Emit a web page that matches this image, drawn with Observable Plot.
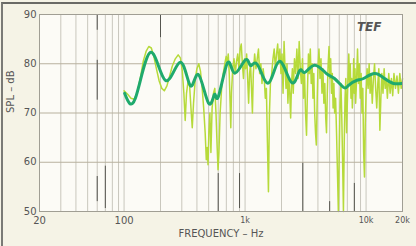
<!DOCTYPE html>
<html><head><meta charset="utf-8">
<script src="https://cdn.jsdelivr.net/npm/d3@7"></script>
<script src="https://cdn.jsdelivr.net/npm/@observablehq/plot@0.6"></script>
<style>
html,body{margin:0;padding:0;background:#f5f3e6;}
#wrap{position:relative;width:416px;height:246px;overflow:hidden;}
#border{position:absolute;left:1px;top:2px;width:430px;height:260px;border-top:2px solid #6a6a66;border-left:2px solid #7a7a76;}
#wrap svg{position:absolute;left:0;top:0;}
</style></head><body><div id="wrap"><div id="border"></div></div>
<script>
const smoothFreq = [101,124,165,220,292,354,412,499,559,603,716,818,1008,1109,1267,1563,1924,2421,2818,3098,3750,4710,5483,6508,7160,8335,9520,11744,14200,16860,19640];
const smoothDb   = [74,73,82.3,76.6,80.3,75.5,77.8,72,73.8,73.4,80.2,78.1,80.8,79.6,79.8,76.1,80.5,76.2,78.6,78.2,79.7,78,77,75.2,75.6,76.6,77,78,77,76,76];

const rawFreq = [100,107,114,121,128,136,144,152,160,168,176,185,195,205,215,226,238,250,265,280,292,303,312,320,328,338,348,357,366,375,388,400,414,428,442,455,468,478,486,494,502,512,522,534,548,562,575,588,598,608,622,640,660,680,698,712,726,740,752,762,772,790,810,830,850,870,890,910,930,950,970,990,1010,1030,1050,1070,1090,1110,1130,1150,1170,1200,1230,1260,1290,1320,1350,1380,1410,1440,1470,1500,1530,1560,1590,1620,1660,1700,1740,1780,1820,1860,1900,1940,1980,2020,2060,2100,2140,2180,2220,2260,2300,2340,2380,2420,2460,2500,2560,2620,2680,2740,2800,2860,2920,2980,3040,3100,3160,3220,3280,3340,3400,3460,3520,3580,3640,3700,3760,3820,3880,3940,4000,4080,4160,4240,4320,4400,4480,4560,4640,4710,4780,4860,4940,5020,5100,5180,5260,5340,5420,5500,5600,5700,5800,5900,6000,6100,6200,6300,6400,6500,6600,6700,6800,6900,7000,7100,7200,7300,7400,7500,7600,7700,7800,7900,8000,8100,8200,8350,8500,8650,8800,8950,9100,9250,9400,9550,9700,9850,10000,10200,10400,10600,10800,11000,11250,11500,11750,12000,12250,12500,12750,13000,13250,13500,13800,14100,14400,14700,15000,15400,15800,16200,16600,17000,17500,18000,18500,19000,19500,20000];
const rawDb = [74.5,73.8,73,72.8,74,77,80.5,82.5,83.5,83.2,81.5,79,76.5,75,74.5,75.5,77.5,79.5,81,81.8,81.2,78.5,74,68.5,74,76.5,75.5,71,67,72,77,79,80,78.5,75,71,66,60.5,63,59.5,66,70,62,71,74,75,70,63,58.5,62,70,75,78,80,81.5,80,82,78,72,67,74,79,81,78,80.5,82,79,83,84,80,77,81,79,82,77,72,78,80,75,70,78,82,79,81,83,78,80,76,79,77,73,75,64,54,70,76,78,81,83,79,82,84,80,83,78,82,74,84.5,79,75,80,72,77,74,69,76,79,74,81,78,83,77,84.5,79,76,81,73,78,70,65.5,75,82,78,83,76,80,73,78,70,66,63.5,72,79,83,77,81,74,79,72,76,69,66,74,80,83.5,77,81,74,78,71,76,70,73,66,58,50,62,72,76,69,60,50,64,73,77,66,72,78,82,76,80,73,77,71,75,81,74,79,72,77,83,76,80,73,78,70,75,62,57,68,74,79,75,80,74,78,72,77,80,75,71,76,79,66.5,73,78,74,79,75,77,73,78,74,77,73.5,78,75,77.5,74,78,75,77];

const gridFreq = [30,40,50,60,70,80,90,100,200,300,400,500,600,700,800,900,1000,2000,3000,4000,5000,6000,7000,8000,9000,10000];
const yGrid = [60,70,80];
const yTicks = [50,60,70,80,90];
const xTicksBig = [20,100];
const xTicksBigText = ["20","100"];
const xTicksSmall = [1000,10000,20000];
const xTicksSmallText = ["1k","10k","20k"];
// dark scan streaks on some grid lines: freq, top dB, bottom dB
const streakFreq = [60,60,60,70,200,600,900,3000,8000,5000];
const streakTop  = [89.8,80.7,57.1,59.2,90,57.7,57.7,59.8,55.7,52];
const streakBot  = [86.8,72.6,52,50.6,85.3,50,50.6,50,50,50];

const raw = rawFreq.map((f,i)=>({f, db: rawDb[i]}));
const smooth = smoothFreq.map((f,i)=>({f, db: smoothDb[i]}));
const streaks = streakFreq.map((f,i)=>({f, y1: streakTop[i], y2: streakBot[i]}));

const font = "'DejaVu Sans', sans-serif";
const plot = Plot.plot({
  width: 416, height: 246,
  marginLeft: 39, marginRight: 14, marginTop: 14, marginBottom: 35,
  style: {background: "transparent", fontFamily: font, overflow: "visible"},
  x: {type: "log", domain: [20, 20000], axis: null},
  y: {domain: [50, 90], axis: null},
  marks: [
    Plot.frame({fill: "#fcfbf6", stroke: "none"}),
    Plot.ruleX(gridFreq, {stroke: "#c9c7bd", strokeWidth: 1}),
    Plot.ruleY(yGrid, {stroke: "#b8b19e", strokeWidth: 1}),
    Plot.ruleX(streaks, {x: "f", y1: "y1", y2: "y2", stroke: "#55554f", strokeWidth: 1}),
    Plot.line(raw, {x: "f", y: "db", stroke: "#b6da3a", strokeWidth: 1.5}),
    Plot.line(smooth, {x: "f", y: "db", stroke: "#1faa6d", strokeWidth: 3, curve: "natural"}),
    Plot.frame({stroke: "#a09e94"}),
    Plot.text(yTicks, {x: 20, y: d => d, text: d => String(d), textAnchor: "end", dx: -3, fontSize: 10, fill: "#555"}),
    Plot.text(xTicksBig, {x: d => d, y: 50, text: (d, i) => xTicksBigText[i], dy: 9, fontSize: 10, fill: "#555"}),
    Plot.text(xTicksSmall, {x: d => d, y: 50, text: (d, i) => xTicksSmallText[i], dy: 9, fontSize: 8, fill: "#555"}),
    Plot.text(["SPL – dB"], {frameAnchor: "left", dx: -29, rotate: -90, fontSize: 10, fill: "#555", style: "letter-spacing:1px"}),
    Plot.text(["FREQUENCY – Hz"], {frameAnchor: "bottom", dy: 25, fontSize: 10, fill: "#555", style: "letter-spacing:1px"}),
    Plot.text(["TEF"], {frameAnchor: "top-right", dx: -21, dy: 8, fontSize: 12, fontStyle: "italic", fontWeight: "bold", fill: "#555"})
  ]
});
document.getElementById("wrap").appendChild(plot);
</script>
</body></html>
